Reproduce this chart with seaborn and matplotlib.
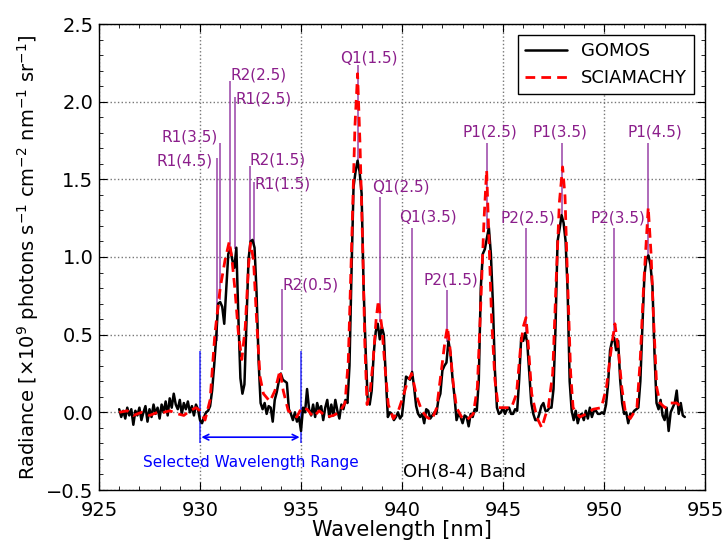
import numpy as np
import pandas as pd
import matplotlib
matplotlib.use("Agg")
import matplotlib.pyplot as plt
import seaborn as sns
from matplotlib.ticker import MultipleLocator, AutoMinorLocator

# ---------------- data ----------------
gomos_wl = np.round(np.arange(926.0, 954.05, 0.1), 2)
gomos_rad = [
    0.02, -0.03, 0.01, -0.04, 0.03, -0.02, 0.02, -0.08, 0.01, -0.02,
    0.03, -0.05, 0.00, 0.04, -0.06, 0.02, -0.03, 0.05, -0.01, 0.03,
    -0.04, 0.05, 0.00, 0.07, -0.02, 0.09, 0.03, 0.12, 0.05, 0.02,
    0.08, -0.01, 0.06, 0.02, 0.07, 0.00, 0.04, -0.02, 0.05, 0.02,
    -0.05, -0.07, -0.03, 0.00, 0.01, 0.04, 0.14, 0.30, 0.48, 0.70,
    0.71, 0.68, 0.57, 0.80, 1.02, 1.05, 0.98, 0.93, 1.06, 0.61,
    0.22, 0.12, 0.18, 0.58, 0.98, 1.10, 1.11, 1.06, 0.77, 0.33,
    0.06, 0.02, 0.06, -0.01, 0.04, 0.03, -0.06, 0.08, 0.13, 0.20,
    0.25, 0.21, 0.20, 0.19, 0.02, -0.01, -0.05, 0.00, -0.06, -0.03,
    -0.12, 0.03, 0.00, 0.15, 0.02, -0.02, 0.05, -0.03, 0.06, 0.01,
    0.04, -0.05, 0.03, 0.08, -0.03, 0.05, -0.02, 0.08, 0.01, -0.04,
    0.05, 0.02, 0.08, 0.06, 0.30, 0.90, 1.45, 1.55, 1.62, 1.55,
    1.41, 0.80, 0.40, 0.08, 0.05, 0.14, 0.38, 0.52, 0.57, 0.47,
    0.55, 0.50, 0.22, -0.03, 0.00, -0.01, -0.05, -0.03, 0.00, -0.04,
    -0.02, 0.10, 0.23, 0.22, 0.21, 0.26, 0.16, 0.04, -0.01, -0.03,
    -0.01, -0.07, 0.02, 0.01, -0.04, -0.02, 0.00, -0.01, 0.08, 0.12,
    0.27, 0.30, 0.32, 0.46, 0.38, 0.22, 0.10, -0.05, -0.01, -0.03,
    -0.07, -0.02, -0.03, -0.09, -0.01, -0.03, 0.02, 0.01, 0.20, 0.80,
    1.02, 1.05, 1.12, 1.19, 1.02, 0.70, 0.27, 0.03, -0.01, 0.00,
    0.03, -0.01, 0.02, 0.03, -0.01, -0.01, 0.02, 0.01, 0.21, 0.48,
    0.46, 0.51, 0.45, 0.25, 0.06, -0.01, -0.05, -0.05, -0.01, 0.04,
    0.06, 0.01, 0.01, 0.03, 0.03, 0.15, 0.55, 1.10, 1.18, 1.27,
    1.22, 1.10, 0.78, 0.20, 0.01, -0.05, 0.01, -0.07, -0.02, -0.01,
    -0.05, 0.01, -0.04, 0.03, -0.03, 0.01, 0.01, -0.01, -0.01, 0.00,
    -0.01, 0.05, 0.18, 0.40, 0.46, 0.48, 0.40, 0.46, 0.21, 0.06,
    -0.01, 0.00, -0.07, -0.01, -0.01, 0.01, 0.02, 0.03, 0.20, 0.55,
    0.88, 0.99, 1.01, 0.95, 0.81, 0.38, 0.06, 0.02, 0.08, -0.02,
    -0.05, 0.03, -0.12, 0.00, 0.03, 0.06, 0.14, -0.01, 0.06, -0.02,
    -0.03,
]

scia_wl = [
    926.0, 926.4, 926.7, 927.1, 927.5, 927.9, 928.2, 928.5, 928.9, 929.2,
    929.5, 929.8, 930.0, 930.25, 930.5, 930.74, 931.0, 931.24, 931.45, 931.57,
    931.73, 931.9, 932.07, 932.24, 932.4, 932.5, 932.65, 932.8, 932.97, 933.14,
    933.46, 933.71, 933.96, 934.12, 934.37, 934.79, 935.03, 935.3, 935.61, 935.9,
    936.27, 936.6, 936.9, 937.18, 937.34, 937.51, 937.67, 937.8, 937.92, 938.05,
    938.16, 938.27, 938.41, 938.57, 938.72, 938.83, 939.0, 939.16, 939.32, 939.57,
    939.82, 940.05, 940.23, 940.48, 940.73, 940.98, 941.22, 941.47, 941.72, 941.97,
    942.13, 942.25, 942.37, 942.54, 942.7, 942.95, 943.2, 943.53, 943.73, 943.9,
    944.06, 944.19, 944.3, 944.44, 944.6, 944.77, 945.1, 945.42, 945.67, 945.87,
    946.0, 946.14, 946.26, 946.42, 946.67, 946.92, 947.1, 947.24, 947.46, 947.62,
    947.79, 947.95, 948.07, 948.18, 948.35, 948.47, 948.8, 949.13, 949.46, 949.87,
    950.12, 950.37, 950.54, 950.71, 950.88, 951.05, 951.3, 951.63, 951.79, 951.96,
    952.08, 952.19, 952.33, 952.44, 952.61, 952.77, 953.02, 953.26, 953.6, 953.85,
]
scia_rad = [
    0.00, 0.01, -0.02, 0.00, -0.02, 0.00, 0.00, 0.01, -0.01, -0.02,
    0.01, 0.03, 0.01, -0.05, 0.08, 0.51, 0.80, 0.98, 1.10, 1.00,
    0.79, 0.51, 0.34, 0.55, 0.94, 1.09, 0.98, 0.60, 0.23, 0.12,
    0.07, 0.14, 0.27, 0.14, 0.01, -0.03, 0.03, 0.02, -0.03, 0.01,
    -0.03, -0.02, 0.00, 0.06, 0.33, 1.09, 1.84, 2.18, 1.73, 1.09,
    0.44, 0.05, 0.12, 0.33, 0.60, 0.72, 0.55, 0.29, 0.05, -0.04,
    0.01, 0.10, 0.18, 0.25, 0.10, 0.01, -0.03, -0.05, 0.03, 0.29,
    0.46, 0.55, 0.42, 0.18, 0.03, -0.03, -0.05, -0.01, 0.16, 0.70,
    1.24, 1.56, 1.13, 0.59, 0.21, 0.03, 0.03, 0.03, 0.12, 0.42,
    0.55, 0.61, 0.42, 0.12, -0.03, -0.10, -0.02, 0.03, 0.25, 0.81,
    1.35, 1.58, 1.39, 0.92, 0.25, 0.03, -0.03, -0.01, 0.02, 0.03,
    0.16, 0.42, 0.57, 0.40, 0.16, 0.01, -0.04, 0.03, 0.33, 0.81,
    1.07, 1.32, 1.02, 0.64, 0.16, 0.06, 0.03, 0.06, 0.06, 0.03,
]

line_names = ["R1(4.5)", "R1(3.5)", "R2(2.5)", "R1(2.5)", "R2(1.5)", "R1(1.5)",
              "R2(0.5)", "Q1(1.5)", "Q1(2.5)", "Q1(3.5)", "P2(1.5)", "P1(2.5)",
              "P2(2.5)", "P1(3.5)", "P2(3.5)", "P1(4.5)"]
line_wl = [930.83, 931.00, 931.49, 931.72, 932.48, 932.69,
           934.08, 937.82, 938.91, 940.51, 942.21, 944.19,
           946.14, 947.92, 950.50, 952.16]
line_top = [1.635, 1.735, 2.13, 2.03, 1.584, 1.483,
            0.792, 2.234, 1.386, 1.185, 0.786, 1.734,
            1.187, 1.734, 1.187, 1.734]
line_bottom = [0.46, 0.72, 1.05, 1.05, 1.10, 1.08,
               0.27, 1.60, 0.58, 0.25, 0.45, 1.18,
               0.52, 1.28, 0.50, 1.00]
label_x = [929.26, 929.50, 932.92, 933.14, 933.86, 934.11,
           935.45, 938.34, 939.95, 941.29, 942.40, 944.36,
           946.21, 947.82, 950.69, 952.52]
label_y = [1.616, 1.771, 2.170, 2.015, 1.623, 1.468,
           0.818, 2.279, 1.449, 1.256, 0.850, 1.803,
           1.249, 1.803, 1.249, 1.803]

range_limits = [930.0, 935.0]

# ---------------- style ----------------
sns.set_style("white")
plt.rcParams["font.family"] = ["DejaVu Sans"]
plt.rcParams["mathtext.fontset"] = "dejavusans"
plt.rcParams["text.color"] = "black"
plt.rcParams["axes.labelcolor"] = "black"

fig = plt.figure(figsize=(7.26, 5.42), dpi=100)
ax = fig.add_axes([99 / 726, 1 - 490 / 542, 606 / 726, 466 / 542])

gdf = pd.DataFrame({"wl": gomos_wl, "rad": gomos_rad})
sdf = pd.DataFrame({"wl": scia_wl, "rad": scia_rad})

# identification lines
ax.vlines(line_wl, line_bottom, line_top, colors="#8b2a9b", alpha=0.75, lw=1.3, zorder=1)
for name, x, y in zip(line_names, label_x, label_y):
    ax.text(x, y, name, color="#8b1e8b", fontsize=11, ha="center", va="center", zorder=1)

sns.lineplot(data=gdf, x="wl", y="rad", ax=ax, color="black", lw=1.8,
             sort=False, estimator=None, label="GOMOS", zorder=3)
sns.lineplot(data=sdf, x="wl", y="rad", ax=ax, color="red", lw=2.0,
             sort=False, estimator=None, label="SCIAMACHY", zorder=4)
ax.lines[-1].set_linestyle((0, (3.5, 2.2)))

# selected wavelength range
ax.vlines(range_limits, -0.2, 0.395, colors="blue", alpha=0.75, lw=1.2, zorder=2)
ax.annotate("", xy=(range_limits[0], -0.16), xytext=(range_limits[1], -0.16),
            arrowprops=dict(arrowstyle="<->", color="blue", lw=1.2,
                            shrinkA=1, shrinkB=1))
ax.text(sum(range_limits) / 2, -0.326, "Selected Wavelength Range",
        color="blue", fontsize=11, ha="center", va="center")
ax.text(940.03, -0.384, "OH(8-4) Band", fontsize=13, ha="left", va="center",
        color="black")

# axes
ax.set_xlim(925, 955)
ax.set_ylim(-0.5, 2.5)
ax.xaxis.set_major_locator(MultipleLocator(5))
ax.yaxis.set_major_locator(MultipleLocator(0.5))
ax.xaxis.set_minor_locator(AutoMinorLocator(5))
ax.yaxis.set_minor_locator(AutoMinorLocator(5))
ax.tick_params(which="both", direction="in", top=True, right=True,
               bottom=True, left=True, labelsize=14, colors="black")
ax.tick_params(which="major", length=6, width=0.8)
ax.tick_params(which="minor", length=3, width=0.6)
ax.tick_params(axis="x", which="major", pad=8)
ax.tick_params(axis="y", which="major", pad=4)
ax.grid(True, which="major", linestyle=":", color="#777777", lw=1.0)
for s in ax.spines.values():
    s.set_color("black")
    s.set_linewidth(1.0)

ax.set_xlabel("Wavelength [nm]", fontsize=15, labelpad=0, color="black")
ax.set_ylabel(r"Radiance [$\times$10$^{9}$ photons s$^{-1}$ cm$^{-2}$ nm$^{-1}$ sr$^{-1}$]",
              fontsize=14, labelpad=4, color="black")

leg = ax.legend(loc="upper right", fontsize=13, frameon=True, fancybox=False,
                handlelength=2.3, borderaxespad=0.6)
leg.get_frame().set_edgecolor("black")
leg.get_frame().set_linewidth(1.0)
leg.get_frame().set_alpha(1.0)
for t in leg.get_texts():
    t.set_color("black")

fig.savefig("out.png", dpi=100)
